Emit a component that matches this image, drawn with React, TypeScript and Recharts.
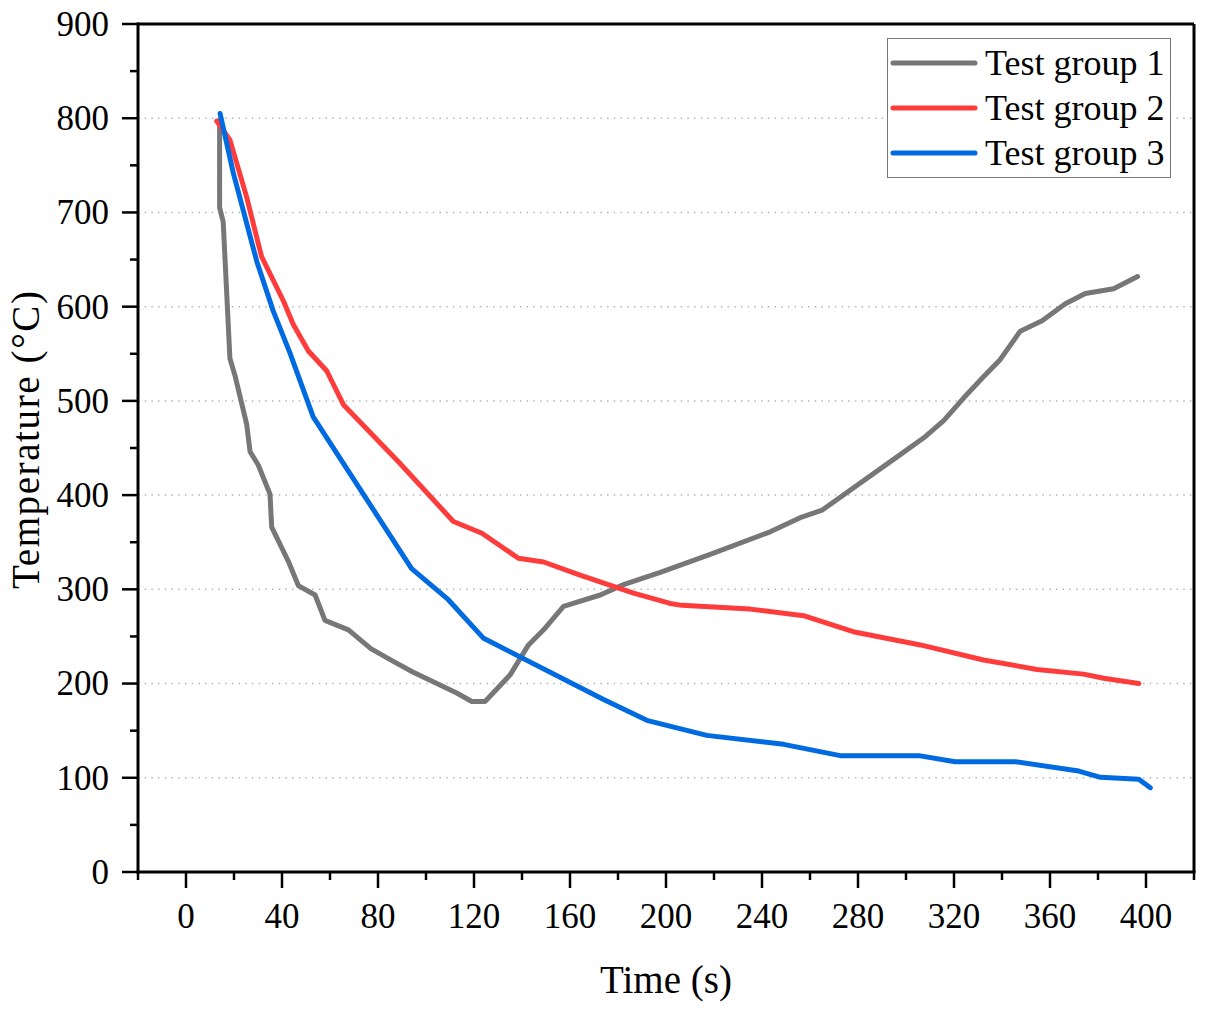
import { Legend, Line, LineChart, ReferenceLine, XAxis, YAxis } from "recharts";

const group1Time = [14, 14, 15.5, 18.3, 20.4, 25.3, 26.7, 30.1, 35, 35.7, 42.6, 46.8, 53.8, 57.9, 67.7, 77, 86, 94.7, 112.8, 119.1, 124.6, 135, 142.7, 149, 157.3, 172.6, 182.3, 197.6, 218.4, 243.4, 255.9, 265, 297.6, 308, 315.7, 324, 331.7, 339.3, 347.6, 356.7, 366.4, 374.7, 386.5, 396.5];
const group1Temp = [798, 705, 690, 545, 527, 475, 446, 432, 401, 366, 330, 304, 294, 267, 257, 237, 224, 212, 190, 181, 181, 209, 241, 257, 282, 294, 305, 318, 337, 361, 376, 384, 443, 462, 479, 503, 524, 544, 574, 585, 603, 614, 619, 632];

const group2Time = [12.8, 18.3, 25.3, 31.5, 40.6, 44.7, 51, 58.6, 65.6, 89, 111.4, 123.3, 138.5, 149, 164.2, 186.5, 201.7, 206.6, 235, 257.3, 278, 306, 332.3, 354.6, 374, 382.4, 397];
const group2Temp = [797, 777, 716, 653, 606, 581, 553, 532, 496, 434, 372, 359.5, 333, 329, 315, 296, 285, 283, 279, 272, 255, 241, 225, 215, 210, 205.6, 200];

const group3Time = [14.2, 19.7, 29.5, 36.4, 43.3, 53, 94, 109.3, 124, 174, 192, 217, 249, 272.6, 305.3, 320.5, 345.6, 371.3, 381, 397, 401.8];
const group3Temp = [805, 742, 648, 595, 551, 483, 322, 289, 248, 183, 161, 145, 135.5, 123.5, 123.5, 117, 117, 107.5, 100.5, 98.4, 89.5];

const xTicks = [-20, 0, 20, 40, 60, 80, 100, 120, 140, 160, 180, 200, 220, 240, 260, 280, 300, 320, 340, 360, 380, 400, 420];
const yTicks = [0, 50, 100, 150, 200, 250, 300, 350, 400, 450, 500, 550, 600, 650, 700, 750, 800, 850, 900];
const gridValues = [100, 200, 300, 400, 500, 600, 700, 800];

const seriesNames = ["Test group 1", "Test group 2", "Test group 3"];
const seriesColors = ["#777777", "#ff3c3c", "#006ae0"];

const toRows = (times: number[], temps: number[]) =>
  times.map((t, i) => ({ t, temp: temps[i] }));

const allSeries = [
  toRows(group1Time, group1Temp),
  toRows(group2Time, group2Temp),
  toRows(group3Time, group3Temp),
];

const FONT = '"Liberation Serif", "Times New Roman", serif';

const XTick = ({ x, y, payload }: any) => {
  const v = payload.value;
  const major = v >= 0 && v <= 400 && v % 40 === 0;
  return (
    <g>
      <line x1={x} x2={x} y1={y} y2={y + (major ? 16 : 8)} stroke="#000" strokeWidth={2.5} />
      {major && (
        <text x={x} y={y + 56} textAnchor="middle" fontSize={35} fontFamily={FONT} fill="#000">
          {v}
        </text>
      )}
    </g>
  );
};

const YTick = ({ x, y, payload }: any) => {
  const v = payload.value;
  const major = v % 100 === 0;
  return (
    <g>
      <line x1={x - (major ? 16 : 8)} x2={x} y1={y} y2={y} stroke="#000" strokeWidth={2.5} />
      {major && (
        <text x={x - 29} y={y} dy="0.34em" textAnchor="end" fontSize={35} fontFamily={FONT} fill="#000">
          {v}
        </text>
      )}
    </g>
  );
};

const LegendBox = () => (
  <svg width={284} height={140} style={{ display: "block" }}>
    <rect x={0.5} y={0.5} width={283} height={139} fill="#fff" stroke="#777" strokeWidth={1} />
    {seriesNames.map((name, i) => (
      <g key={name}>
        <line x1={6} x2={88} y1={25 + i * 45} y2={25 + i * 45} stroke={seriesColors[i]} strokeWidth={5} strokeLinecap="round" />
        <text x={98} y={37 + i * 45} fontSize={36} fontFamily={FONT} fill="#000">
          {name}
        </text>
      </g>
    ))}
  </svg>
);

export default function App() {
  return (
    <div style={{ position: "absolute", left: 0, top: 0 }}>
      <LineChart
        width={1205}
        height={1012}
        margin={{ top: 24, right: 11, bottom: 0, left: 0 }}
        style={{ fontFamily: FONT }}
      >
        <XAxis
          type="number"
          dataKey="t"
          domain={[-20, 420]}
          ticks={xTicks}
          interval={0}
          height={140}
          tickSize={0}
          tickMargin={0}
          tickLine={false}
          tick={<XTick />}
          axisLine={{ stroke: "#000", strokeWidth: 3, strokeLinecap: "square" }}
          allowDataOverflow
          label={{
            content: () => (
              <text x={666} y={993} textAnchor="middle" fontSize={39} fontFamily={FONT} fill="#000">
                Time (s)
              </text>
            ),
          }}
        />
        <YAxis
          type="number"
          domain={[0, 900]}
          ticks={yTicks}
          interval={0}
          width={138}
          tickSize={0}
          tickMargin={0}
          tickLine={false}
          tick={<YTick />}
          axisLine={{ stroke: "#000", strokeWidth: 3, strokeLinecap: "square" }}
          allowDataOverflow
          label={{
            content: () => (
              <text
                x={39}
                y={440}
                transform="rotate(-90 39 440)"
                textAnchor="middle"
                fontSize={39}
                fontFamily={FONT}
                fill="#000"
                textLength={298}
                lengthAdjust="spacing"
              >
                Temperature (°C)
              </text>
            ),
          }}
        />
        {gridValues.map((v) => (
          <ReferenceLine key={v} y={v} stroke="#b5b5b5" strokeWidth={1.5} strokeDasharray="1.5 5.2" />
        ))}
        <ReferenceLine y={900} stroke="#000" strokeWidth={3} />
        <ReferenceLine x={420} stroke="#000" strokeWidth={3} />
        {allSeries.map((rows, i) => (
          <Line
            key={seriesNames[i]}
            data={rows}
            dataKey="temp"
            name={seriesNames[i]}
            type="linear"
            stroke={seriesColors[i]}
            strokeWidth={5}
            strokeLinejoin="round"
            strokeLinecap="round"
            dot={false}
            activeDot={false}
            isAnimationActive={false}
          />
        ))}
        <Legend
          layout="vertical"
          align="center"
          verticalAlign="middle"
          content={<LegendBox />}
          wrapperStyle={{ left: 887, top: 38, width: 284, height: 140 }}
        />
      </LineChart>
    </div>
  );
}
